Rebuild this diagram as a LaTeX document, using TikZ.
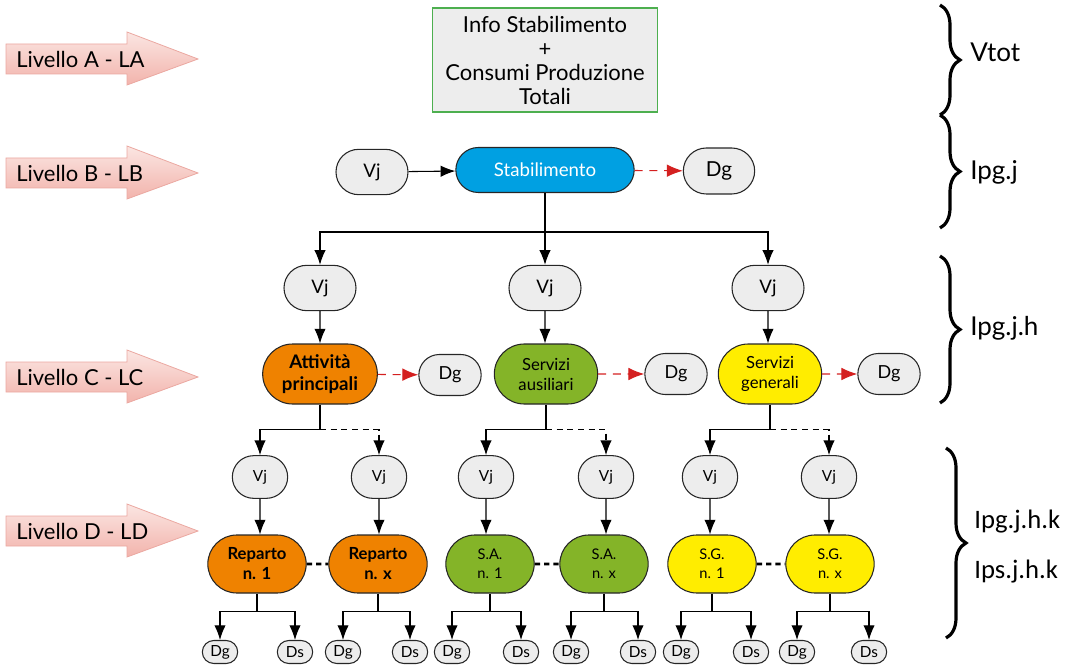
\documentclass[tikz,border=0pt]{standalone}
\usepackage{fontspec}
\setmainfont{Lato}
\newfontfamily\calfont{Carlito}
\usetikzlibrary{shapes.misc,arrows.meta,decorations.pathreplacing,calc}
\definecolor{nodegray}{HTML}{EDEDED}
\definecolor{infogreen}{HTML}{4DAF4F}
\definecolor{stabblue}{HTML}{00A0E2}
\definecolor{aporange}{HTML}{EF8200}
\definecolor{sagreen}{HTML}{84B428}
\definecolor{sgyellow}{HTML}{FFED00}
\definecolor{arred}{HTML}{D42020}
\definecolor{lvltop}{HTML}{FBE6E2}
\definecolor{lvlbot}{HTML}{F2B3AC}
\definecolor{lvlborder}{HTML}{EBA8A1}
\newcommand\lvlarrow[3]{%
  \shade[top color=lvltop, bottom color=lvlbot, draw=lvlborder, line width=0.6pt]
    (6,#1-15) -- (127,#1-15) -- (127,#1-27) -- (198,#1) -- (127,#1+26) -- (127,#1+15) -- (6,#1+15) -- cycle;
  \node[anchor=west, font=\fontsize{16.5}{19}\selectfont, inner sep=0pt] (#2) at (16,#1) {#3};
}
\begin{document}
\begin{tikzpicture}[x=0.75pt,y=-0.75pt,
  pill/.style={rounded rectangle, draw=black!85, line width=0.8pt, inner sep=1pt, align=center},
  gpill/.style={pill, fill=nodegray},
  arr/.style={-{Latex[length=11pt,width=8.5pt]}, line width=0.8pt},
  redarr/.style={-{Latex[length=12pt,width=9.5pt]}, line width=0.8pt, color=arred, dash pattern=on 6pt off 5pt},
  dsharr/.style={arr, dash pattern=on 4.5pt off 3.5pt},
  brc/.style={decorate, decoration={brace, amplitude=15pt}, line width=2.4pt},
  brtext/.style={anchor=west, font=\fontsize{19.5}{22}\selectfont, inner sep=0pt},
  vjtop/.style={gpill, minimum width=56pt, minimum height=34pt, font=\fontsize{14}{16}\selectfont},
  dgc/.style={gpill, minimum width=48.75pt, minimum height=30.75pt, font=\fontsize{13.5}{15}\selectfont},
  cnode/.style={pill, minimum height=45pt, font=\fontsize{12.5}{15}\selectfont},
  vjd/.style={gpill, minimum width=43.5pt, minimum height=32pt, font=\fontsize{11.5}{13}\selectfont},
  dnode/.style={pill, minimum height=43.5pt, font=\fontsize{11}{14}\selectfont},
  leaf/.style={gpill, minimum width=28.5pt, minimum height=17.25pt, font=\fontsize{11.5}{12}\selectfont},
  dots/.style={line width=2.2pt, dash pattern=on 4pt off 3pt}
]
\useasboundingbox (0,0) rectangle (1066,666);

% level arrows
\lvlarrow{59}{la}{Livello A - LA}
\lvlarrow{173}{lb}{Livello B - LB}
\lvlarrow{377}{lc}{Livello C - LC}
\lvlarrow{531}{ld}{Livello D - LD}

% info box
\node[draw=infogreen, fill=nodegray, line width=0.8pt, minimum width=168.75pt, minimum height=78pt,
      align=center, font=\fontsize{16.5}{18}\selectfont, inner sep=1pt] (info) at (545,60)
  {Info Stabilimento\\+\\Consumi Produzione\\Totali};

% level B
\node[pill, fill=stabblue, minimum width=135.75pt, minimum height=33.75pt, text=white,
      font=\fontsize{14}{16}\selectfont] (stab) at (545,170) {Stabilimento};
\node[vjtop] (vjb) at (372,172) {Vj};
\node[gpill, minimum width=55.5pt, minimum height=34.5pt, font=\fontsize{15.5}{17}\selectfont] (dgb) at (719,171) {Dg};
\draw[arr] (vjb) -- (stab);
\draw[redarr] (stab) -- (dgb);

% level C
\node[vjtop] (vjc1) at (320,288) {Vj};
\node[vjtop] (vjc2) at (545,288) {Vj};
\node[vjtop] (vjc3) at (768,288) {Vj};
\draw[line width=0.8pt] (stab.south) -- ++(0,39) coordinate (sj);
\draw[arr] (sj) -| (vjc1.north);
\draw[arr] (sj) -- (vjc2.north);
\draw[arr] (sj) -| (vjc3.north);

\node[cnode, fill=aporange, minimum width=88pt, font=\fontsize{14}{17}\bfseries\selectfont] (ap) at (320,374) {Attività\\principali};
\node[cnode, fill=sagreen, minimum width=79.5pt] (sa) at (546,374) {Servizi\\ausiliari};
\node[cnode, fill=sgyellow, minimum width=79.5pt] (sg) at (770,374) {Servizi\\generali};
\draw[arr] (vjc1) -- (ap);
\draw[arr] (vjc2) -- (vjc2 |- sa.north);
\draw[arr] (vjc3) -- (vjc3 |- sg.north);

\node[dgc] (dgc1) at (450,375) {Dg};
\node[dgc] (dgc2) at (676,374) {Dg};
\node[dgc] (dgc3) at (889,374) {Dg};
\draw[redarr] (ap) -- (dgc1);
\draw[redarr] (sa) -- (dgc2);
\draw[redarr] (sg) -- (dgc3);

% level D Vj
\node[vjd] (vjd1) at (260,477) {Vj};
\node[vjd] (vjd2) at (379,477) {Vj};
\node[vjd] (vjd3) at (486,477) {Vj};
\node[vjd] (vjd4) at (606,477) {Vj};
\node[vjd] (vjd5) at (710,477) {Vj};
\node[vjd] (vjd6) at (829,477) {Vj};

\draw[line width=0.8pt] (ap.south) -- ++(0,25) coordinate (apj);
\draw[arr] (apj) -| (vjd1.north);
\draw[dsharr] (apj) -| (vjd2.north);
\draw[line width=0.8pt] (sa.south) -- ++(0,25) coordinate (saj);
\draw[arr] (saj) -| (vjd3.north);
\draw[dsharr] (saj) -| (vjd4.north);
\draw[line width=0.8pt] (sg.south) -- ++(0,25) coordinate (sgj);
\draw[arr] (sgj) -| (vjd5.north);
\draw[dsharr] (sgj) -| (vjd6.north);

% level D nodes
\node[dnode, fill=aporange, minimum width=75.75pt, font=\fontsize{12.5}{15}\bfseries\selectfont] (d1) at (257,564) {Reparto\\n. 1};
\node[dnode, fill=aporange, minimum width=75.75pt, font=\fontsize{12.5}{15}\bfseries\selectfont] (d2) at (378,564) {Reparto\\n. x};
\node[dnode, fill=sagreen, minimum width=68.25pt] (d3) at (490,564) {S.A.\\n. 1};
\node[dnode, fill=sagreen, minimum width=68.25pt] (d4) at (604,564) {S.A.\\n. x};
\node[dnode, fill=sgyellow, minimum width=68.25pt] (d5) at (712,564) {S.G.\\n. 1};
\node[dnode, fill=sgyellow, minimum width=68.25pt] (d6) at (830,564) {S.G.\\n. x};
\draw[arr] (vjd1) -- (vjd1 |- d1.north);
\draw[arr] (vjd2) -- (vjd2 |- d2.north);
\draw[arr] (vjd3) -- (vjd3 |- d3.north);
\draw[arr] (vjd4) -- (vjd4 |- d4.north);
\draw[arr] (vjd5) -- (vjd5 |- d5.north);
\draw[arr] (vjd6) -- (vjd6 |- d6.north);
\draw[dots] (d1) -- (d2);
\draw[dots] (d3) -- (d4);
\draw[dots] (d5) -- (d6);

% leaves
\foreach \i/\g/\s in {1/220/295, 2/343/410, 3/452/521, 4/571/638, 5/681/751, 6/797/869} {
  \node[leaf] (g\i) at (\g,652) {Dg};
  \node[leaf] (s\i) at (\s,652) {Ds};
  \draw[line width=0.8pt] (d\i.south) -- ++(0,18) coordinate (j\i);
  \draw[arr] (j\i) -| (g\i.north);
  \draw[arr] (j\i) -| (s\i.north);
}

% braces
\coordinate (b1) at (940,5);
\coordinate (b2) at (940,115);
\coordinate (b3) at (940,228);
\coordinate (b4) at (940,256);
\coordinate (b5) at (940,403);
\coordinate (b6) at (946,448);
\coordinate (b7) at (946,638);
\draw[brc] (b1) -- (b2);
\draw[brc] (b2) -- (b3);
\draw[brc] (b4) -- (b5);
\draw[brc] (b6) -- (b7);
\node[brtext] (t1) at (970,52) {Vtot};
\node[brtext] (t2) at (970,172) {Ipg.j};
\node[brtext] (t3) at (970,328) {Ipg.j.h};
\node[brtext, font=\calfont\fontsize{20}{22}\selectfont] (t4) at (974,522) {Ipg.j.h.k};
\node[brtext, font=\calfont\fontsize{20}{22}\selectfont] (t5) at (974,572) {Ips.j.h.k};
\end{tikzpicture}
\end{document}
